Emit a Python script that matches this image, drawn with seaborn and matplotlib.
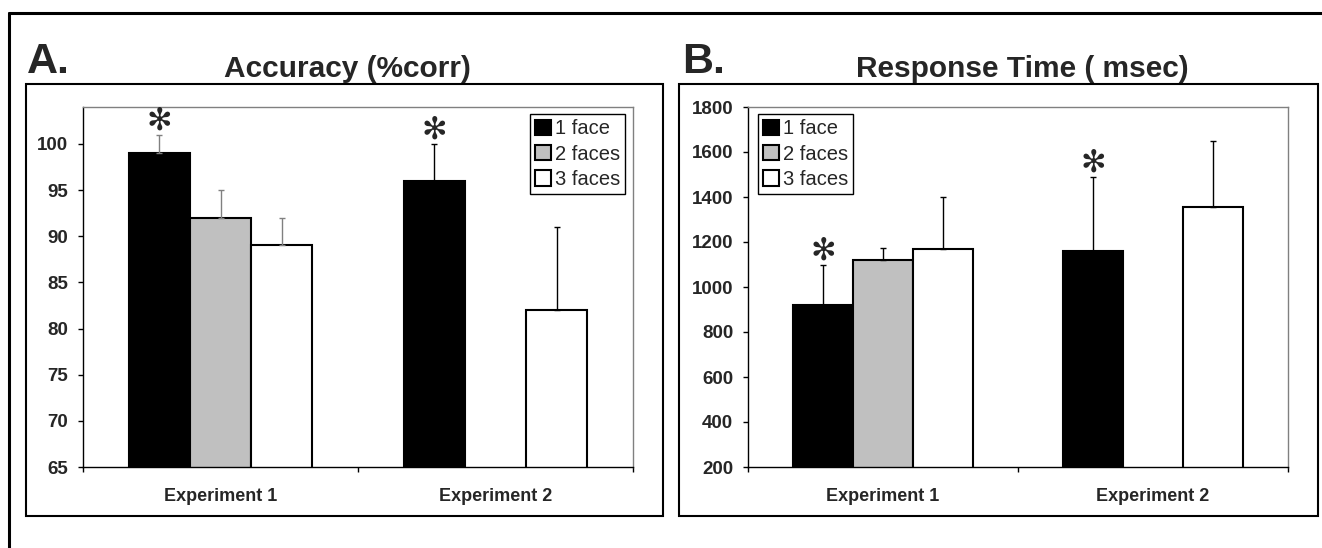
import numpy as np
import pandas as pd
import matplotlib.pyplot as plt
import seaborn as sns
from matplotlib.patches import Rectangle
from matplotlib.lines import Line2D

# Categories
experiments = ['Experiment 1', 'Experiment 2']
conditions = ['1 face', '2 faces', '3 faces']
colors = ['black', '#c0c0c0', 'white']

# Accuracy (% correct): means and upper error bars (Exp 1, Exp 2)
acc_1face = [99, 96]
acc_2faces = [92, np.nan]
acc_3faces = [89, 82]
acc_err_1face = [2, 4]
acc_err_2faces = [3, np.nan]
acc_err_3faces = [3, 9]

# Response time (msec): means and upper error bars (Exp 1, Exp 2)
rt_1face = [918, 1160]
rt_2faces = [1120, np.nan]
rt_3faces = [1170, 1355]
rt_err_1face = [182, 330]
rt_err_2faces = [55, np.nan]
rt_err_3faces = [230, 295]

# conditions marked with an asterisk
significant = ['1 face']

acc_ticks = [65, 70, 75, 80, 85, 90, 95, 100]
rt_ticks = [200, 400, 600, 800, 1000, 1200, 1400, 1600, 1800]


def make_df(means, errs):
    rows = []
    for cond, m, e in zip(conditions, means, errs):
        for i, exp in enumerate(experiments):
            rows.append({'experiment': exp, 'condition': cond,
                         'value': m[i], 'err': e[i]})
    return pd.DataFrame(rows)


acc_df = make_df([acc_1face, acc_2faces, acc_3faces],
                 [acc_err_1face, acc_err_2faces, acc_err_3faces])
rt_df = make_df([rt_1face, rt_2faces, rt_3faces],
                [rt_err_1face, rt_err_2faces, rt_err_3faces])

sns.set_style('white')
plt.rcParams['font.family'] = ['Liberation Sans', 'DejaVu Sans']

W, H = 1322, 548
fig = plt.figure(figsize=(W / 100, H / 100), dpi=100)


def px_rect(x0, y0, x1, y1):
    return [x0 / W, 1 - y1 / H, (x1 - x0) / W, (y1 - y0) / H]


def draw_panel(ax, df, ylim, yticks, err_colors, legend_loc, legend_anchor):
    sns.barplot(data=df, x='experiment', y='value', hue='condition',
                order=experiments, hue_order=conditions, palette=colors,
                saturation=1, edgecolor='black', linewidth=1.5, width=0.667,
                errorbar=None, ax=ax)
    ax.set_xlim(-0.5, 1.5)
    ax.set_ylim(*ylim)
    ax.set_yticks(yticks)
    ax.set_xlabel('')
    ax.set_ylabel('')

    # error bars (upper only) and asterisks
    for cond, cont in zip(conditions, ax.containers):
        for bar in cont:
            xc = bar.get_x() + bar.get_width() / 2
            i = int(round(xc))
            row = df[(df.experiment == experiments[i]) & (df.condition == cond)]
            m, e = row.value.iloc[0], row.err.iloc[0]
            if np.isnan(m):
                continue
            ax.errorbar([xc], [m], yerr=[[0], [e]], fmt='none',
                        ecolor=err_colors[i], elinewidth=1, capsize=2.5,
                        capthick=1, zorder=1)
            if cond in significant:
                ax.annotate('\u273B', xy=(xc, m + e), xytext=(0, 10),
                            textcoords='offset points', ha='center',
                            va='center', fontsize=22, fontweight='bold',
                            family='DejaVu Sans')

    for s in ['left', 'bottom']:
        ax.spines[s].set_color('black')
        ax.spines[s].set_linewidth(1)
    for s in ['top', 'right']:
        ax.spines[s].set_color('#808080')
        ax.spines[s].set_linewidth(1)

    ax.set_xticks([-0.5, 0.5, 1.5], minor=True)
    ax.tick_params(axis='x', which='major', length=0, pad=15, labelsize=13)
    ax.tick_params(axis='x', which='minor', length=3.6, width=1,
                   direction='out', color='black', bottom=True)
    ax.tick_params(axis='y', length=3.6, width=1, direction='out',
                   color='black', left=True, pad=7, labelsize=13.5)
    for lbl in ax.get_xticklabels() + ax.get_yticklabels():
        lbl.set_fontweight('bold')

    handles, labels = ax.get_legend_handles_labels()
    leg = ax.legend(handles, labels, loc=legend_loc,
                    bbox_to_anchor=legend_anchor, borderaxespad=0,
                    fancybox=False, framealpha=1, edgecolor='black',
                    fontsize=14.5, handlelength=0.8, handleheight=0.8,
                    handletextpad=0.2, labelspacing=0.32, borderpad=0.25)
    leg.get_frame().set_linewidth(1)


axA = fig.add_axes(px_rect(83, 107, 633, 467))
draw_panel(axA, acc_df, (65, 104), acc_ticks, ['#808080', 'black'],
           'upper right', (0.9855, 0.98))

axB = fig.add_axes(px_rect(748, 107, 1288, 467))
draw_panel(axB, rt_df, (200, 1800), rt_ticks, ['black', 'black'],
           'upper left', (0.0185, 0.98))

# panel frames
for x0, x1 in [(26, 663), (679, 1318)]:
    fig.add_artist(Rectangle((x0 / W, 1 - 516 / H), (x1 - x0) / W,
                             (516 - 84) / H, transform=fig.transFigure,
                             fill=False, edgecolor='black', lw=1.5))

# outer frame (top and left edges)
fig.add_artist(Line2D([9 / W, 1], [1 - 13 / H] * 2, color='black', lw=2.2,
                      transform=fig.transFigure))
fig.add_artist(Line2D([9 / W] * 2, [0, 1 - 13 / H], color='black', lw=2.2,
                      transform=fig.transFigure))

# panel letters and titles
fig.text(27 / W, 1 - 73 / H, 'A.', fontsize=31, fontweight='bold',
         va='baseline', ha='left')
fig.text(347 / W, 1 - 77 / H, 'Accuracy (%corr)', fontsize=21.5,
         fontweight='bold', va='baseline', ha='center')
fig.text(682 / W, 1 - 73 / H, 'B.', fontsize=31, fontweight='bold',
         va='baseline', ha='left')
fig.text(1022 / W, 1 - 77 / H, 'Response Time ( msec)', fontsize=21.5,
         fontweight='bold', va='baseline', ha='center')

fig.savefig('out.png', dpi=100)
